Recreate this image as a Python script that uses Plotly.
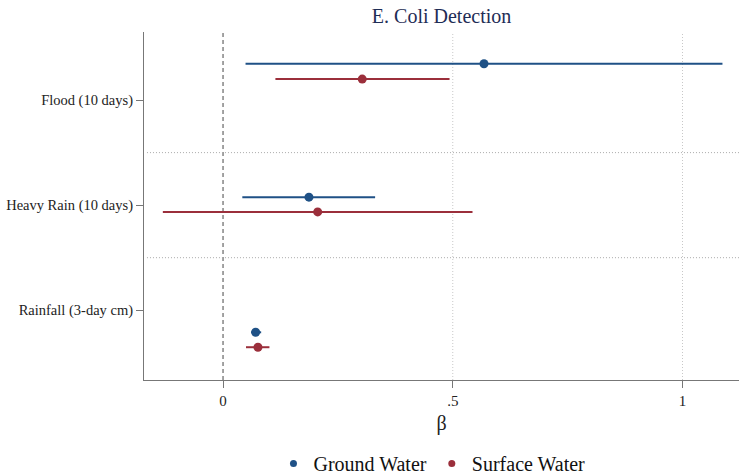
import plotly.graph_objects as go

# Coefficient estimates (beta) with 95% confidence intervals
categories = ["Flood (10 days)", "Heavy Rain (10 days)", "Rainfall (3-day cm)"]
cat_pos = [3, 2, 1]

ground_beta = [0.568, 0.187, 0.071]
ground_lo = [0.049, 0.042, 0.061]
ground_hi = [1.087, 0.331, 0.083]
ground_y = [3.346, 2.076, 0.790]

surface_beta = [0.303, 0.206, 0.076]
surface_lo = [0.114, -0.131, 0.050]
surface_hi = [0.493, 0.543, 0.101]
surface_y = [3.200, 1.936, 0.648]

x_ticks = [0, 0.5, 1]
x_tick_labels = ["0", ".5", "1"]
x_grid = [0.5, 1]
separators = [1.5, 2.5]

BLUE = "#1f5186"
RED = "#9b2f3b"
FONT = "Liberation Serif"


def add_series(fig, name, beta, lo, hi, ypos, color):
    fig.add_trace(go.Scatter(
        x=beta, y=ypos, mode="markers", name=name, showlegend=False,
        marker=dict(color=color, size=9),
        error_x=dict(type="data", symmetric=False,
                     array=[h - b for h, b in zip(hi, beta)],
                     arrayminus=[b - l for b, l in zip(beta, lo)],
                     color=color, thickness=2, width=0),
    ))
    # legend entry with a smaller dot
    fig.add_trace(go.Scatter(
        x=[None], y=[None], mode="markers", name=name,
        marker=dict(color=color, size=7),
    ))


fig = go.Figure()
add_series(fig, "Ground Water", ground_beta, ground_lo, ground_hi, ground_y, BLUE)
add_series(fig, "Surface Water", surface_beta, surface_lo, surface_hi, surface_y, RED)

# vertical dotted gridlines
for g in x_grid:
    fig.add_shape(type="line", xref="x", yref="paper", x0=g, x1=g, y0=0, y1=1,
                  line=dict(color="#c8c8c8", width=1, dash="1px,2px"), layer="below")
# zero reference line
fig.add_shape(type="line", xref="x", yref="paper", x0=0, x1=0, y0=0, y1=1,
              line=dict(color="#666666", width=1.2, dash="4px,3px"), layer="below")
# separators between coefficient groups
for s in separators:
    fig.add_shape(type="line", xref="paper", yref="y", x0=0.005, x1=1, y0=s, y1=s,
                  line=dict(color="#aaaaaa", width=1, dash="1px,2px"), layer="below")

fig.update_layout(
    width=739, height=475,
    margin=dict(l=144, r=0, t=32, b=95, autoexpand=False),
    paper_bgcolor="white", plot_bgcolor="white",
    font=dict(family=FONT, color="#222222"),
    title=dict(text="E. Coli Detection", x=0.5975, xanchor="center",
               y=0.966, yanchor="middle",
               font=dict(family=FONT, size=20, color="#1f2d56")),
    showlegend=True,
    legend=dict(orientation="h", x=0.484, xanchor="center", y=-0.24, yanchor="middle",
                font=dict(family=FONT, size=20, color="#111111"),
                itemwidth=30, tracegroupgap=0),
    xaxis=dict(range=[-0.172, 1.123], tickvals=x_ticks, ticktext=x_tick_labels,
               showgrid=False, zeroline=False, showline=True,
               linecolor="#777777", linewidth=1.2,
               ticks="outside", ticklen=7, tickcolor="#777777",
               tickfont=dict(family=FONT, size=15, color="#222222"),
               title=dict(text="β", font=dict(family=FONT, size=20, color="#222222"),
                          standoff=7)),
    yaxis=dict(range=[0.336, 3.648], tickvals=cat_pos, ticktext=categories,
               showgrid=False, zeroline=False, showline=True,
               linecolor="#777777", linewidth=1.2,
               ticks="outside", ticklen=7, tickcolor="#777777",
               tickfont=dict(family=FONT, size=14.5, color="#222222")),
)

fig.write_html("out.html")
